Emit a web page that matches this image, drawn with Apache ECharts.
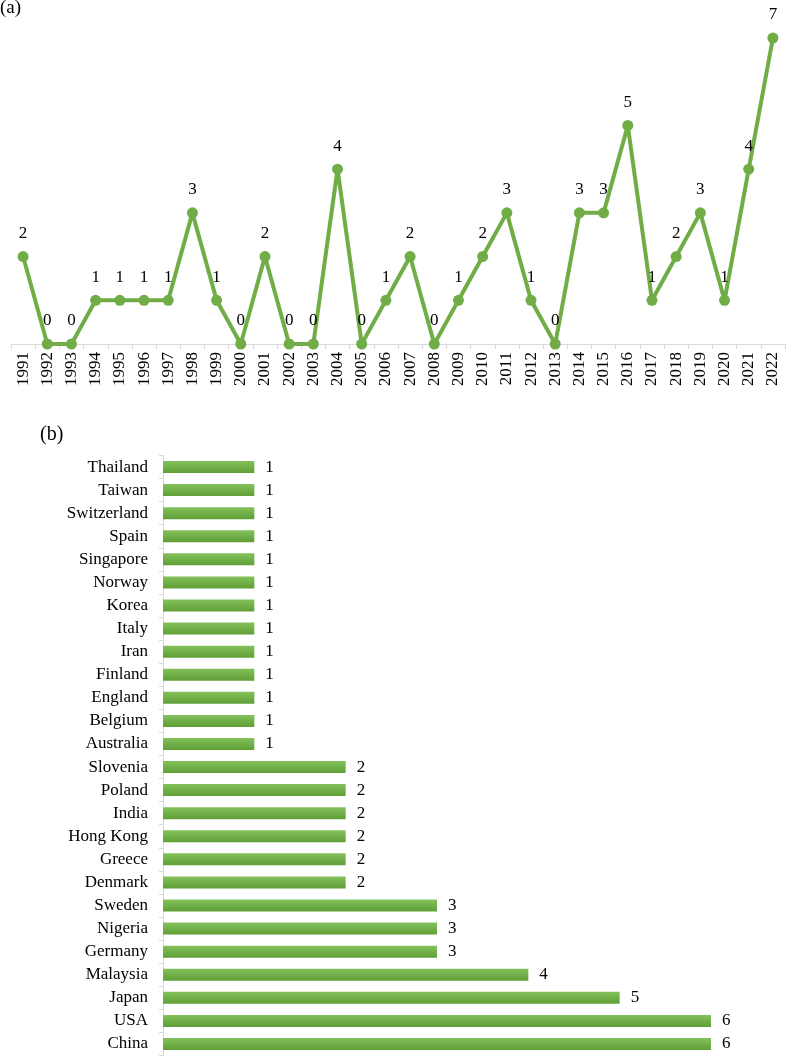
<!DOCTYPE html>
<html><head><meta charset="utf-8">
<script src="https://cdn.jsdelivr.net/npm/echarts@6/dist/echarts.min.js"></script>
<style>html,body{margin:0;padding:0;background:#fff}#c{width:787px;height:1056px}</style>
</head><body><div id="c"></div>
<script>
const years = ['1991','1992','1993','1994','1995','1996','1997','1998','1999','2000','2001','2002','2003','2004','2005','2006','2007','2008','2009','2010','2011','2012','2013','2014','2015','2016','2017','2018','2019','2020','2021','2022'];
const yearCounts = [2,0,0,1,1,1,1,3,1,0,2,0,0,4,0,1,2,0,1,2,3,1,0,3,3,5,1,2,3,1,4,7];
const countries = ['China','USA','Japan','Malaysia','Germany','Nigeria','Sweden','Denmark','Greece','Hong Kong','India','Poland','Slovenia','Australia','Belgium','England','Finland','Iran','Italy','Korea','Norway','Singapore','Spain','Switzerland','Taiwan','Thailand'];
const countryCounts = [6,6,5,4,3,3,3,2,2,2,2,2,2,1,1,1,1,1,1,1,1,1,1,1,1,1];

const FONT = "'Liberation Serif','Times New Roman',serif";
const GREEN = '#70AD47';
const AXIS = '#d9d9d9';
const chart = echarts.init(document.getElementById('c'), null, {renderer:'canvas'});
chart.setOption({
  animation:false,
  textStyle:{fontFamily:FONT},
  graphic:[
    {type:'text', left:0, top:-1, style:{text:'(a)', font:'19px '+FONT, fill:'#000'}},
    {type:'text', left:40, top:425, style:{text:'(b)', font:'20px '+FONT, fill:'#000'}}
  ],
  grid:[
    {left:11, right:2, top:38, height:306, containLabel:false},
    {left:163, right:76, top:455.5, height:600, containLabel:false}
  ],
  xAxis:[
    {gridIndex:0, type:'category', data:years, boundaryGap:true,
     axisLine:{lineStyle:{color:AXIS, width:1}},
     axisTick:{show:true, alignWithLabel:false, length:5, lineStyle:{color:AXIS}},
     axisLabel:{rotate:90, interval:0, color:'#000', fontFamily:FONT, fontSize:17, margin:8}},
    {gridIndex:1, type:'value', min:0, max:6, show:false, splitLine:{show:false}}
  ],
  yAxis:[
    {gridIndex:0, type:'value', min:0, max:7, show:false, splitLine:{show:false}},
    {gridIndex:1, type:'category', data:countries, boundaryGap:true,
     axisLine:{lineStyle:{color:AXIS, width:1}},
     axisTick:{show:true, length:4, lineStyle:{color:AXIS}},
     axisLabel:{interval:0, color:'#000', fontFamily:FONT, fontSize:17, margin:15}}
  ],
  series:[
    {type:'line', xAxisIndex:0, yAxisIndex:0, data:yearCounts,
     symbol:'circle', symbolSize:11, clip:false,
     lineStyle:{color:GREEN, width:4}, itemStyle:{color:GREEN},
     label:{show:true, position:'top', distance:9, color:'#000', fontFamily:FONT, fontSize:17}},
    {type:'bar', xAxisIndex:1, yAxisIndex:1, data:countryCounts, barWidth:12,
     itemStyle:{color:new echarts.graphic.LinearGradient(0,0,0,1,[{offset:0,color:'#84c15c'},{offset:1,color:'#5f9f36'}])},
     label:{show:true, position:'right', distance:11, color:'#000', fontFamily:FONT, fontSize:17}}
  ]
});
</script></body></html>
